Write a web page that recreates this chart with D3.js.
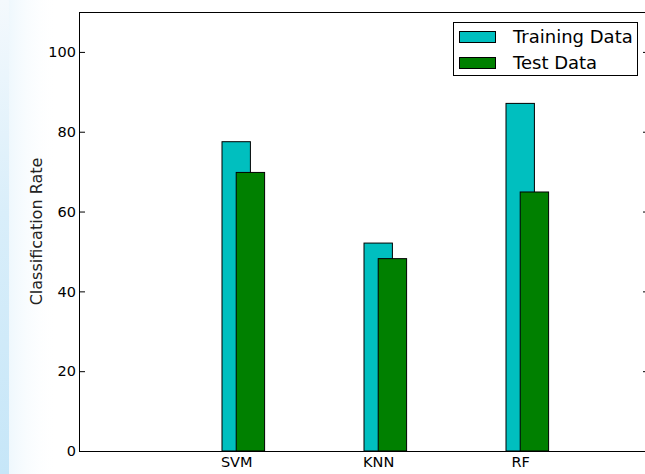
<!DOCTYPE html>
<html>
<head>
<meta charset="utf-8">
<script src="https://cdnjs.cloudflare.com/ajax/libs/d3/7.8.5/d3.min.js"></script>
<style>
  html, body { margin: 0; padding: 0; background: #fff; }
  svg { display: block; font-family: "DejaVu Sans", sans-serif; }
</style>
</head>
<body>
<script>
// Classification rate per classifier
const categories = ["SVM", "KNN", "RF"];
const trainingRates = [77.5, 52.1, 87.1];
const testRates = [69.8, 48.2, 64.9];
const seriesNames = ["Training Data", "Test Data"];
const yTickValues = [0, 20, 40, 60, 80, 100];

const W = 645, H = 474;
const margin = { left: 80, top: 12, bottom: 451 };
const barWidth = 0.2, testOffset = 0.1;

const svg = d3.select("body").append("svg").attr("width", W).attr("height", H);

// soft blue backdrop along the left edge
const defs = svg.append("defs");
const gv = defs.append("linearGradient").attr("id", "edge").attr("x1", 0).attr("y1", 0).attr("x2", 0).attr("y2", 1);
gv.append("stop").attr("offset", "0%").attr("stop-color", "#f4f9fd");
gv.append("stop").attr("offset", "45%").attr("stop-color", "#d9eefa");
gv.append("stop").attr("offset", "100%").attr("stop-color", "#c6e6f8");
const gh = defs.append("linearGradient").attr("id", "haze").attr("x1", 0).attr("y1", 0).attr("x2", 1).attr("y2", 0);
gh.append("stop").attr("offset", "0%").attr("stop-color", "#e3f2fb").attr("stop-opacity", 1);
gh.append("stop").attr("offset", "100%").attr("stop-color", "#ffffff").attr("stop-opacity", 0);
svg.append("rect").attr("x", 8).attr("y", 0).attr("width", 50).attr("height", H).attr("fill", "url(#haze)").attr("opacity", 0.6);
svg.append("rect").attr("x", 0).attr("y", 0).attr("width", 9).attr("height", H).attr("fill", "url(#edge)");

const x = d3.scaleLinear().domain([0, 4]).range([margin.left, margin.left + 4 * 142]);
const y = d3.scaleLinear().domain([0, 110]).range([margin.bottom, margin.top]);

const rows = categories.map((c, i) => ({ c, i, train: trainingRates[i], test: testRates[i] }));

// bars
svg.append("g").selectAll("rect").data(rows).join("rect")
  .attr("x", d => x(d.i + 1))
  .attr("width", x(barWidth) - x(0))
  .attr("y", d => y(d.train))
  .attr("height", d => y(0) - y(d.train))
  .attr("fill", "#00bfbf").attr("stroke", "#000").attr("stroke-width", 1);

svg.append("g").selectAll("rect").data(rows).join("rect")
  .attr("x", d => x(d.i + 1 + testOffset))
  .attr("width", x(barWidth) - x(0))
  .attr("y", d => y(d.test))
  .attr("height", d => y(0) - y(d.test))
  .attr("fill", "#008000").attr("stroke", "#000").attr("stroke-width", 1);

// frame
const frame = svg.append("g").attr("stroke", "#000").attr("stroke-width", 1).attr("fill", "none");
frame.append("line").attr("x1", x(0)).attr("x2", W).attr("y1", y(0) + 0.5).attr("y2", y(0) + 0.5);
frame.append("line").attr("x1", x(0)).attr("x2", W).attr("y1", y(110) + 0.5).attr("y2", y(110) + 0.5);
frame.append("line").attr("x1", x(0) - 0.5).attr("x2", x(0) - 0.5).attr("y1", y(110)).attr("y2", y(0) + 1);
frame.append("line").attr("x1", x(4) - 0.5).attr("x2", x(4) - 0.5).attr("y1", y(110)).attr("y2", y(0) + 1);

// y axis, ticks pointing inward
const yAxis = svg.append("g").attr("transform", `translate(${x(0)},0)`)
  .call(d3.axisLeft(y).tickValues(yTickValues).tickSize(-5).tickPadding(4).tickFormat(d3.format("d")));
yAxis.select(".domain").remove();
yAxis.selectAll("text").attr("font-size", "14.5px").attr("fill", "#000").attr("font-family", "DejaVu Sans");

const yAxisR = svg.append("g").attr("transform", `translate(${x(4)},0)`)
  .call(d3.axisRight(y).tickValues(yTickValues).tickSize(-5).tickFormat(""));
yAxisR.select(".domain").remove();

// x axis category labels
const xAxis = svg.append("g").attr("transform", `translate(0,${y(0)})`)
  .call(d3.axisBottom(x).tickValues(rows.map(d => d.i + 1 + testOffset))
    .tickFormat((d, i) => categories[i]).tickSize(0).tickPadding(6));
xAxis.select(".domain").remove();
xAxis.selectAll("text").attr("font-size", "14.5px").attr("fill", "#000").attr("font-family", "DejaVu Sans");

// y axis title
svg.append("text")
  .attr("transform", `translate(42,${(y(0) + y(110)) / 2}) rotate(-90)`)
  .attr("text-anchor", "middle")
  .attr("font-size", "16px")
  .attr("fill", "#222")
  .text("Classification Rate");

// legend
const legend = svg.append("g");
legend.append("rect").attr("x", 453.5).attr("y", 22.5).attr("width", 184).attr("height", 53)
  .attr("fill", "#fff").attr("stroke", "#000");
const colors = ["#00bfbf", "#008000"];
seriesNames.forEach((name, i) => {
  const ly = 31 + i * 26;
  legend.append("rect").attr("x", 459.5).attr("y", ly + 0.5).attr("width", 36).attr("height", 11)
    .attr("fill", colors[i]).attr("stroke", "#000");
  legend.append("text").attr("x", 513).attr("y", ly + 11.5).attr("font-size", "18px").text(name);
});
</script>
</body>
</html>
